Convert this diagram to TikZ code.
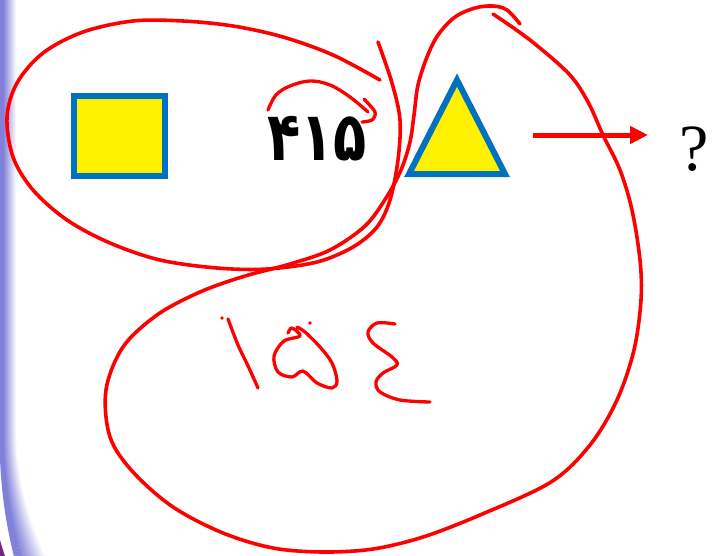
\documentclass[tikz,border=0pt]{standalone}
\usepackage{fontspec}
\usetikzlibrary{arrows.meta}
\newfontfamily\arabicfont[Script=Arabic]{DejaVu Sans}
\newfontfamily\qfont{Liberation Serif}
\definecolor{shapeblue}{HTML}{0070C0}
\definecolor{band}{RGB}{128,128,218}
\definecolor{corner}{RGB}{112,40,140}

\begin{document}
\begin{tikzpicture}[x=1pt, y=-1pt,
  figure/.style={draw=shapeblue, fill=yellow, line width=6pt},
  pen/.style={draw=red, line width=3.6pt, line cap=round, line join=round},
  ink/.style={pen, line width=3.3pt}]
\useasboundingbox (0,0) rectangle (715,555);
\clip (0,0) rectangle (715,555);
% slide edge
\foreach \i in {16,15.5,...,0}{
  \pgfmathsetmacro\mix{\i<3 ? 100 : 100-(\i-3)*100/13}
  \draw[band!\mix!white, line width=1.2pt] (\i,-5) -- (\i,430) .. controls (\i,480) and (1.5*\i+5,520) .. (2*\i+16,562);
}
\fill[corner] (0,540) .. controls (2,547) .. (5,556) -- (0,556) -- cycle;
% shapes and labels
\node[figure, minimum width=91pt, minimum height=80pt] (sq) at (119.5,136) {};
\node[font=\arabicfont\bfseries\fontsize{68}{68}\selectfont, inner sep=0, xscale=0.8] (num) at (317,139) {۴۱۵};
\draw[figure, line join=miter] (457,80) -- (505,174) -- (409,174) -- cycle;
\node[font=\qfont\fontsize{66}{66}\selectfont, inner sep=0] (q) at (694,149) {?};
\coordinate (astart) at (533,135);
\coordinate (aend) at (648,135);
\draw[red, line width=5pt, -{Triangle[length=18pt,width=17pt]}] (astart) -- (aend);
% pen strokes
\draw[pen] plot[smooth, tension=0.55] coordinates {(380,80) (333,55) (283,37) (233,26) (183,21)
  (133,21) (83,32) (43,53) (17,83) (7,117) (13,157) (33,190) (67,220) (110,243) (160,260)
  (217,268) (267,269) (317,262) (353,247) (377,227) (390,200) (398,160) (400,120) (392,83) (378,42)};
\draw[pen] plot[smooth, tension=0.55] coordinates {(520,24) (507,10) (493,6) (475,8) (455,17)
  (438,35) (427,57) (418,85) (414,115) (410,142) (401,170) (386,198) (365,226) (330,250)
  (290,264) (245,276) (200,292) (157,315) (123,347) (106,390) (110,437) (133,472) (173,507)
  (223,533) (273,548) (323,552) (373,549) (423,537) (480,515) (551,482) (590,445) (617,400)
  (634,350) (641,300) (640,260) (632,210) (620,170) (603,135) (588,102) (569,74) (530,40) (493,14)};
\draw[ink] plot[smooth, tension=0.6] coordinates {(268,110) (276,95) (290,86) (310,81) (330,85) (350,97) (368,112)};
\draw[ink] plot[smooth, tension=0.5] coordinates {(364,99) (375,112) (372,120) (362,122)};
% handwritten number
\fill[red] (222,318) circle (1.8);
\draw[ink] plot[smooth, tension=0.5] coordinates {(228,319) (238,345) (249,368) (258,388)};
\fill[red] (310,323) circle (1.8);
\draw[ink] plot[smooth, tension=0.55] coordinates {(288,333) (292,328) (300,336) (284,341)
  (274,356) (278,372) (292,377) (303,371) (317,383) (332,388) (337,381) (332,363) (320,347)
  (305,332) (297,327)};
\draw[ink] plot[smooth, tension=0.55] coordinates {(395,324) (377,323) (368,332) (373,343)
  (392,357) (397,365) (383,373) (376,382) (380,392) (400,400) (430,402)};
\end{tikzpicture}
\end{document}
